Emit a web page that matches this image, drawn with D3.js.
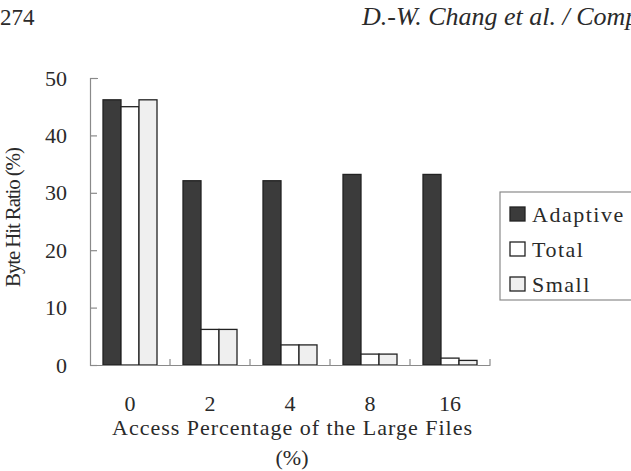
<!DOCTYPE html>
<html>
<head>
<meta charset="utf-8">
<script src="https://cdn.jsdelivr.net/npm/d3@7"></script>
<style>
  body { margin: 0; background: #fff; }
  svg { display: block; }
  text { font-family: "Liberation Serif", "DejaVu Serif", serif; fill: #2a2a2a; }
</style>
</head>
<body>
<script>
var categories = ['0', '2', '4', '8', '16'];
var seriesNames = ['Adaptive', 'Total', 'Small'];
var adaptive = [46.2, 32.1, 32.1, 33.2, 33.2];
var total = [45.0, 6.2, 3.5, 1.9, 1.2];
var small = [46.2, 6.2, 3.5, 1.9, 0.8];
var yTicks = [0, 10, 20, 30, 40, 50];

(function() {
  'use strict';

  var values = { Adaptive: adaptive, Total: total, Small: small };
  var fills = { Adaptive: '#3b3b3b', Total: '#ffffff', Small: '#efefef' };

  var W = 631, H = 471;
  var mLeft = 90, mRight = 490, mTop = 78, mBottom = 365;

  var svg = d3.select('body').append('svg').attr('width', W).attr('height', H);

  // page header (the right one runs off the page, as in the scan)
  svg.append('text').attr('x', 0).attr('y', 25).style('font-size', '23px').text('274');
  svg.append('text').attr('x', 362).attr('y', 25).style('font-size', '26px')
    .style('font-style', 'italic').text('D.-W. Chang et al. / Computer');

  var x0 = d3.scaleBand().domain(categories).range([mLeft, mRight]);
  var x1 = d3.scaleBand().domain(seriesNames).range([13, x0.bandwidth() - 13]);
  var y = d3.scaleLinear().domain([0, 50]).range([mBottom, mTop]);

  // bars
  var groups = svg.selectAll('.grp').data(categories).enter().append('g')
    .attr('class', 'grp')
    .attr('transform', function(d) { return 'translate(' + x0(d) + ',0)'; });

  groups.selectAll('rect').data(function(c, i) {
    return seriesNames.map(function(s) { return { s: s, v: values[s][i] }; });
  }).enter().append('rect')
    .attr('x', function(d) { return x1(d.s); })
    .attr('y', function(d) { return y(d.v); })
    .attr('width', x1.bandwidth())
    .attr('height', function(d) { return mBottom - y(d.v); })
    .attr('fill', function(d) { return fills[d.s]; })
    .attr('stroke', '#222')
    .attr('stroke-width', 1.3);

  // y axis
  var yAxis = svg.append('g').attr('transform', 'translate(' + mLeft + ',0)')
    .call(d3.axisLeft(y).tickValues(yTicks).tickSize(-7).tickSizeOuter(-8).tickPadding(23));
  yAxis.selectAll('path, line').attr('stroke', '#8a8a8a').attr('stroke-width', 1.2);
  yAxis.selectAll('text').style('font-size', '22px').attr('fill', '#2a2a2a')
    .attr('font-family', null);

  // x axis
  var xAxis = svg.append('g').attr('transform', 'translate(0,' + mBottom + ')')
    .call(d3.axisBottom(x0).tickSize(0).tickSizeOuter(0).tickPadding(30));
  xAxis.selectAll('path').attr('stroke', '#8a8a8a').attr('stroke-width', 1.2);
  xAxis.selectAll('text').style('font-size', '22px').attr('fill', '#2a2a2a')
    .attr('font-family', null);

  // separators between groups
  svg.selectAll('.sep').data(categories).enter().append('line')
    .attr('x1', function(d) { return x0(d) + x0.bandwidth(); })
    .attr('x2', function(d) { return x0(d) + x0.bandwidth(); })
    .attr('y1', mBottom).attr('y2', mBottom - 6)
    .attr('stroke', '#8a8a8a').attr('stroke-width', 1.2);

  // axis titles
  svg.append('text').attr('x', 292).attr('y', 435).attr('text-anchor', 'middle')
    .style('font-size', '22px').attr('textLength', 360).attr('lengthAdjust', 'spacing')
    .text('Access Percentage of the Large Files');
  svg.append('text').attr('x', 292).attr('y', 465).attr('text-anchor', 'middle')
    .style('font-size', '22px').text('(%)');
  svg.append('text').attr('transform', 'translate(20,217) rotate(-90)')
    .attr('text-anchor', 'middle').style('font-size', '21px')
    .attr('textLength', 140).attr('lengthAdjust', 'spacing')
    .text('Byte Hit Ratio (%)');

  // legend
  var lg = svg.append('g').attr('transform', 'translate(500,192)');
  lg.append('rect').attr('x', 0).attr('y', 0).attr('width', 140).attr('height', 108)
    .attr('fill', 'none').attr('stroke', '#8a8a8a').attr('stroke-width', 1.2);
  var items = lg.selectAll('.li').data(seriesNames).enter().append('g')
    .attr('transform', function(d, i) { return 'translate(10,' + (15 + i * 35) + ')'; });
  items.append('rect').attr('width', 15).attr('height', 14)
    .attr('fill', function(d) { return fills[d]; })
    .attr('stroke', '#222').attr('stroke-width', 1.3);
  items.append('text').attr('x', 22).attr('y', 15).style('font-size', '22px')
    .style('letter-spacing', '1.5px')
    .text(function(d) { return d; });
})();
</script>
</body>
</html>
